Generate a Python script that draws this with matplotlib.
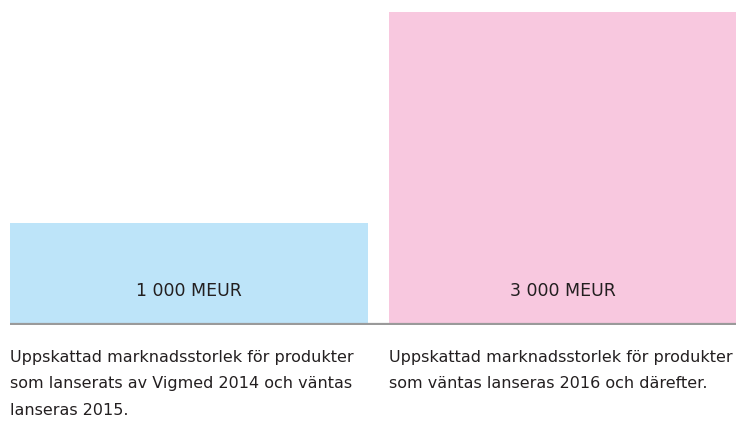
import matplotlib
matplotlib.use("Agg")
import matplotlib.pyplot as plt

# data ========================================================================
values = [1000, 3000]                      # MEUR, bar area proportional to value
bar_labels = ["1 000 MEUR", "3 000 MEUR"]
captions = [
    "Uppskattad marknadsstorlek för produkter\nsom lanserats av Vigmed 2014 och väntas\nlanseras 2015.",
    "Uppskattad marknadsstorlek för produkter\nsom väntas lanseras 2016 och därefter.",
]
bar_colors = ["#bde4f9", "#f8c8df"]

# layout (pixel-ish units)
widths = [358, 347]
lefts = [0, 379]
area_scale = 36.16   # height = value / width * scale

plt.rcParams['font.family'] = ['DejaVu Sans']

fig = plt.figure(figsize=(7.36, 4.21), dpi=100)
ax = fig.add_axes([10 / 736, (421 - 325) / 421, 726 / 736, 325 / 421])

heights = [v / w * area_scale for v, w in zip(values, widths)]
ax.bar(lefts, heights, width=widths, align='edge', color=bar_colors, linewidth=0)

for l, w, lab in zip(lefts, widths, bar_labels):
    ax.text(l + w / 2, 33, lab, ha='center', va='center', fontsize=12.5, color='#231f20')

ax.axhline(0, color='#9a9a9a', linewidth=1.6)

ax.set_xlim(0, 726)
ax.set_ylim(-1, 325)
ax.axis('off')

for l, cap in zip(lefts, captions):
    fig.text((10 + l) / 736, (421 - 350) / 421, cap, ha='left', va='top',
             fontsize=11.5, color='#231f20', linespacing=1.95)

fig.savefig('out.png', dpi=100)
